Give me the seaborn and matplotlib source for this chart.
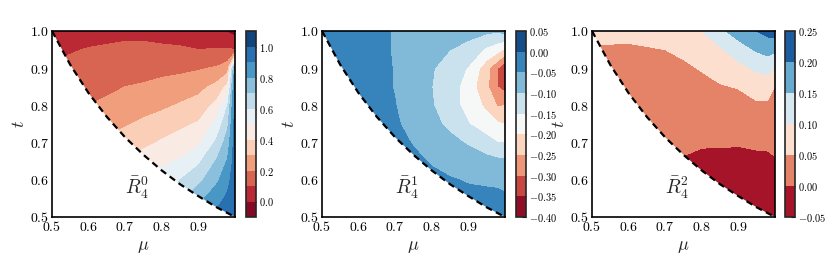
import numpy as np
import matplotlib
matplotlib.use('Agg')
import matplotlib.pyplot as plt
from matplotlib.patches import Polygon
from matplotlib.ticker import FuncFormatter
import seaborn as sns

### DATA ###
mu_grid = [0.5, 0.6, 0.7, 0.75, 0.8, 0.85, 0.9, 0.95, 0.98, 1.0]
t_grid = [0.5, 0.55, 0.6, 0.65, 0.7, 0.75, 0.8, 0.85, 0.9, 0.95, 1.0]

# one list per mu column, values for t = 0.5 ... 1.0
r0_cols = [
    [0.40, 0.36, 0.32, 0.28, 0.24, 0.20, 0.17, 0.14, 0.11, 0.08, 0.05],
    [0.45, 0.41, 0.37, 0.33, 0.29, 0.25, 0.20, 0.17, 0.14, 0.105, 0.06],
    [0.53, 0.49, 0.45, 0.40, 0.35, 0.29, 0.245, 0.20, 0.16, 0.12, 0.075],
    [0.60, 0.54, 0.49, 0.44, 0.38, 0.32, 0.26, 0.21, 0.165, 0.12, 0.075],
    [0.68, 0.60, 0.54, 0.48, 0.41, 0.35, 0.28, 0.23, 0.17, 0.115, 0.065],
    [0.76, 0.68, 0.60, 0.51, 0.44, 0.38, 0.31, 0.24, 0.18, 0.11, 0.06],
    [0.84, 0.77, 0.67, 0.58, 0.48, 0.41, 0.34, 0.27, 0.19, 0.10, 0.05],
    [0.93, 0.86, 0.78, 0.71, 0.62, 0.53, 0.43, 0.33, 0.21, 0.105, 0.04],
    [0.95, 0.92, 0.87, 0.81, 0.75, 0.68, 0.60, 0.43, 0.25, 0.11, -0.01],
    [0.97, 0.97, 0.96, 0.95, 0.95, 0.94, 0.93, 0.92, 0.85, 0.10, -0.04],
]
r1_cols = [
    [-0.01, -0.01, -0.01, -0.01, -0.01, -0.01, -0.01, -0.01, -0.01, -0.015, -0.02],
    [-0.01, -0.01, -0.012, -0.015, -0.018, -0.02, -0.022, -0.025, -0.028, -0.03, -0.03],
    [-0.02, -0.025, -0.03, -0.035, -0.04, -0.045, -0.049, -0.052, -0.052, -0.053, -0.053],
    [-0.025, -0.03, -0.036, -0.043, -0.052, -0.063, -0.07, -0.073, -0.072, -0.07, -0.065],
    [-0.03, -0.035, -0.042, -0.053, -0.073, -0.088, -0.097, -0.10, -0.097, -0.088, -0.075],
    [-0.032, -0.038, -0.047, -0.066, -0.088, -0.11, -0.125, -0.128, -0.118, -0.10, -0.08],
    [-0.034, -0.04, -0.053, -0.077, -0.105, -0.148, -0.172, -0.172, -0.155, -0.115, -0.085],
    [-0.035, -0.042, -0.055, -0.085, -0.13, -0.18, -0.21, -0.24, -0.23, -0.16, -0.09],
    [-0.035, -0.043, -0.056, -0.09, -0.15, -0.195, -0.255, -0.30, -0.30, -0.18, -0.095],
    [-0.035, -0.045, -0.06, -0.09, -0.15, -0.20, -0.25, -0.32, -0.34, -0.21, -0.08],
]
r2_cols = [
    [0.03, 0.03, 0.03, 0.03, 0.03, 0.032, 0.035, 0.038, 0.042, 0.048, 0.056],
    [0.02, 0.02, 0.022, 0.025, 0.028, 0.03, 0.033, 0.036, 0.04, 0.046, 0.058],
    [-0.015, -0.012, -0.008, -0.004, 0.01, 0.018, 0.025, 0.032, 0.04, 0.05, 0.068],
    [-0.025, -0.022, -0.015, -0.004, 0.01, 0.02, 0.028, 0.036, 0.045, 0.056, 0.075],
    [-0.03, -0.028, -0.022, -0.012, 0.005, 0.018, 0.03, 0.042, 0.052, 0.07, 0.10],
    [-0.035, -0.03, -0.024, -0.013, 0.005, 0.02, 0.035, 0.047, 0.065, 0.093, 0.14],
    [-0.04, -0.035, -0.027, -0.015, 0.004, 0.02, 0.036, 0.052, 0.083, 0.13, 0.17],
    [-0.045, -0.04, -0.03, -0.012, 0.008, 0.025, 0.045, 0.065, 0.11, 0.155, 0.20],
    [-0.045, -0.04, -0.03, -0.01, 0.008, 0.025, 0.042, 0.07, 0.115, 0.168, 0.215],
    [-0.045, -0.04, -0.03, -0.004, 0.012, 0.025, 0.035, 0.048, 0.10, 0.16, 0.225],
]

# dashed lower boundary of the allowed region
bound_mu = [0.5, 0.55, 0.6, 0.65, 0.7, 0.75, 0.8, 0.85, 0.9, 0.95, 1.0]
bound_t = [1.0, 0.909, 0.833, 0.769, 0.714, 0.667, 0.625, 0.588, 0.556, 0.526, 0.5]

labels = [r'$\bar{R}_4^0$', r'$\bar{R}_4^1$', r'$\bar{R}_4^2$']
levels = [np.linspace(-0.1, 1.1, 13), np.linspace(-0.40, 0.05, 10), np.linspace(-0.05, 0.25, 7)]
cbar_ticks = [[0.0, 0.2, 0.4, 0.6, 0.8, 1.0], np.linspace(-0.40, 0.05, 10), np.linspace(-0.05, 0.25, 7)]
cbar_fmt = ['{:.1f}', '{:.2f}', '{:.2f}']

### STYLE ###
sns.set_style('white')
plt.rcParams['mathtext.fontset'] = 'cm'
plt.rcParams['font.family'] = ['DejaVu Serif']
cmap = sns.color_palette('RdBu', as_cmap=True)

fig = plt.figure(figsize=(8.3, 2.66), dpi=100)
ax_lefts = [52, 322, 592]
cb_lefts = [246, 516, 785]

for i, cols in enumerate([r0_cols, r1_cols, r2_cols]):
    Z = np.array(cols).T
    ax = fig.add_axes([ax_lefts[i] / 830, 49 / 266, 183 / 830, 186 / 266])
    cs = ax.contourf(mu_grid, t_grid, Z, levels=levels[i], cmap=cmap)
    # only the region above the dashed curve is shown
    verts = list(zip(bound_mu, bound_t)) + [(1.0, 1.0)]
    clip = Polygon(verts, closed=True, transform=ax.transData, facecolor='none', edgecolor='none')
    ax.add_patch(clip)
    cs.set_clip_path(clip)
    ax.plot(bound_mu, bound_t, color='black', ls='--', lw=1.6, dashes=(3, 2))
    ax.set_xlim(0.5, 1.0)
    ax.set_ylim(0.5, 1.0)
    ax.set_xticks([0.5, 0.6, 0.7, 0.8, 0.9])
    ax.set_yticks([0.5, 0.6, 0.7, 0.8, 0.9, 1.0])
    fmt = FuncFormatter(lambda v, _: '$' + '{:.1f}'.format(v) + '$')
    ax.xaxis.set_major_formatter(fmt)
    ax.yaxis.set_major_formatter(fmt)
    ax.tick_params(direction='in', length=3, width=0.8, labelsize=10, pad=2, colors='black')
    for s in ax.spines.values():
        s.set_linewidth(1.2)
        s.set_color('black')
    ax.set_xlabel(r'$\mu$', fontsize=13, labelpad=2)
    ax.set_ylabel(r'$t$', fontsize=13, labelpad=1)
    ax.text(0.732, 0.578, labels[i], fontsize=14, ha='center', va='center')

    cax = fig.add_axes([cb_lefts[i] / 830, 49 / 266, 10 / 830, 186 / 266])
    cb = fig.colorbar(cs, cax=cax, ticks=cbar_ticks[i])
    f = cbar_fmt[i]
    cb.ax.yaxis.set_major_formatter(FuncFormatter(lambda v, _, f=f: '$' + f.format(round(v, 3) + 0.0) + '$'))
    cb.ax.tick_params(direction='in', length=3, width=0.8, labelsize=7.5, pad=2, colors='black')
    cb.outline.set_linewidth(1.2)

fig.savefig('out.png', dpi=100)
